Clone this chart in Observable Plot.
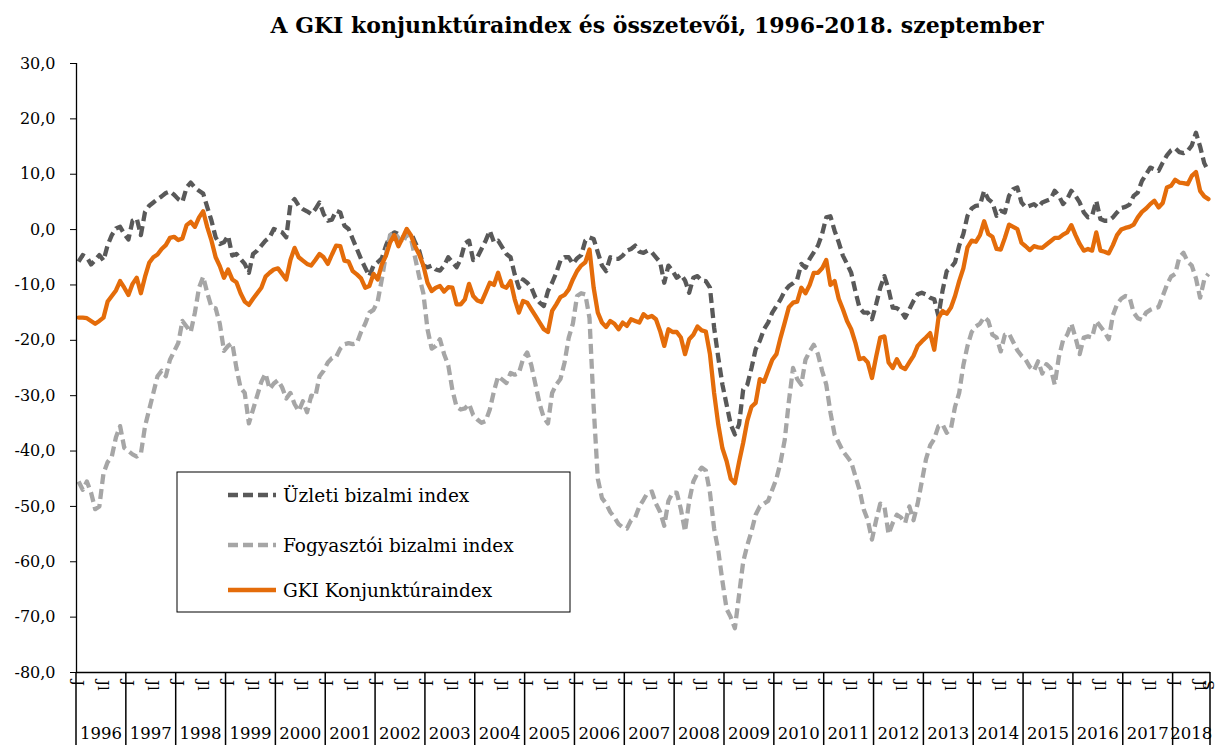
<!DOCTYPE html>
<html><head><meta charset="utf-8">
<script src="https://cdn.jsdelivr.net/npm/d3@7"></script>
<script src="https://cdn.jsdelivr.net/npm/@observablehq/plot@0.6"></script>
<style>
body{margin:0;background:#fff;width:1220px;height:745px;overflow:hidden;}
#title{height:45px;box-sizing:border-box;padding-left:94px;text-align:center;font-family:"DejaVu Serif";font-weight:bold;font-size:22px;line-height:50px;color:#000;white-space:nowrap;}
#chart svg{display:block;}
</style></head><body>
<div id="title">A GKI konjunktúraindex és összetevői, 1996-2018. szeptember</div>
<div id="chart"></div>
<script>
const years = [1996,1997,1998,1999,2000,2001,2002,2003,2004,2005,2006,2007,2008,2009,2010,2011,2012,2013,2014,2015,2016,2017,2018];
const monthTickLabels = ["J", "Jl"];
const monthTickIndex = [0, 6];
const lastMonthLabel = "S";
const yTicks = [30,20,10,0,-10,-20,-30,-40,-50,-60,-70,-80];
const seriesNames = ["Üzleti bizalmi index", "Fogyasztói bizalmi index", "GKI Konjunktúraindex"];

const uzleti = [
-5.8,-4.6,-5.0,-6.3,-5.5,-4.6,-5.6,-2.8,-1.0,0.2,0.5,-0.8,
-1.8,1.6,2.0,-1.0,3.2,4.3,4.9,5.5,6.0,6.6,6.9,6.3,
5.5,5.0,7.6,8.5,7.6,7.0,6.5,4.0,1.6,-1.4,-2.6,-2.3,
-1.1,-4.7,-4.4,-5.3,-6.2,-7.8,-4.4,-3.8,-2.9,-2.0,-1.4,0.1,
-0.2,-0.5,-1.4,4.6,5.5,4.3,3.7,3.3,2.8,3.7,4.9,2.8,
1.6,1.8,3.4,3.1,0.7,0.1,-1.7,-3.5,-5.3,-6.9,-8.4,-6.5,
-5.9,-5.2,-2.9,-1.1,-0.5,-0.8,-1.4,-0.8,-0.5,-2.3,-3.8,-6.5,
-6.8,-6.5,-7.2,-7.4,-6.5,-5.0,-5.9,-6.8,-5.3,-2.5,-2.0,-5.5,
-5.0,-3.5,-2.0,-0.2,-2.3,-2.0,-3.2,-4.4,-5.0,-8.1,-10.5,-9.0,
-9.6,-10.5,-12.3,-13.2,-13.8,-11.1,-9.6,-7.8,-5.6,-5.0,-5.0,-6.2,
-5.2,-4.6,-2.0,-1.4,-1.7,-4.1,-6.5,-7.5,-5.0,-5.3,-5.3,-4.7,
-3.8,-3.5,-2.9,-4.0,-4.2,-3.8,-4.1,-5.0,-5.9,-9.6,-6.5,-7.5,
-8.7,-8.1,-9.2,-11.4,-8.7,-8.4,-9.2,-9.3,-10.5,-17.7,-23.1,-28.0,
-31.6,-35.2,-37.0,-35.2,-28.9,-28.0,-25.0,-21.6,-20.1,-18.0,-16.8,-15.0,
-13.8,-12.6,-11.1,-10.2,-9.7,-9.0,-6.2,-6.9,-5.3,-4.1,-2.9,-0.8,
2.2,2.4,-0.2,-2.3,-4.7,-6.2,-7.8,-11.1,-14.1,-15.0,-15.0,-16.2,
-13.5,-10.5,-8.4,-10.8,-14.1,-14.2,-14.7,-15.9,-14.4,-12.9,-11.7,-11.4,
-11.7,-12.3,-12.6,-15.6,-11.0,-7.5,-6.9,-5.9,-2.9,-0.8,2.5,3.8,
4.3,4.4,7.0,5.5,4.9,2.5,3.4,3.1,6.1,7.3,7.6,4.9,
4.0,4.3,4.6,4.0,4.9,5.2,5.5,7.0,6.1,4.6,5.5,7.0,
6.1,4.9,3.1,2.2,2.5,5.2,1.9,1.6,1.6,2.2,3.1,3.9,
4.1,4.5,6.1,6.7,8.8,10.0,11.2,10.9,10.6,12.1,13.4,14.3,
14.7,14.0,13.8,14.2,15.2,17.5,15.0,12.0,10.5
];

const fogyasztoi = [
-45.5,-47.0,-45.5,-47.5,-50.5,-50.0,-44.0,-42.0,-41.0,-37.5,-35.5,-39.4,
-40.0,-40.6,-41.0,-40.5,-35.5,-32.5,-29.5,-26.5,-25.5,-26.5,-23.5,-22.0,
-20.5,-16.5,-17.5,-18.5,-15.0,-10.5,-8.5,-11.5,-14.0,-14.2,-17.0,-21.9,
-21.0,-20.5,-25.0,-28.6,-29.5,-35.0,-32.5,-30.0,-27.5,-26.0,-28.8,-27.8,
-27.2,-28.5,-30.5,-29.5,-31.5,-32.8,-31.0,-33.0,-30.0,-30.2,-26.5,-25.5,
-24.0,-23.2,-23.0,-21.5,-20.7,-20.5,-20.7,-20.5,-18.5,-17.0,-15.0,-14.5,
-13.0,-9.0,-4.5,-1.0,-0.5,-1.5,-2.5,-0.8,-1.5,-5.0,-8.5,-11.5,
-18.0,-21.5,-21.0,-19.8,-22.5,-24.5,-29.0,-32.0,-32.5,-32.3,-31.5,-33.5,
-34.3,-34.9,-34.6,-32.5,-29.2,-26.5,-27.1,-27.7,-25.9,-26.2,-25.9,-23.4,
-22.2,-24.5,-28.0,-31.5,-34.0,-35.0,-29.5,-28.0,-27.0,-24.0,-19.5,-17.0,
-12.0,-11.5,-11.7,-16.0,-32.0,-45.0,-48.5,-49.5,-51.0,-52.0,-53.2,-53.8,
-54.0,-52.5,-52.0,-50.0,-48.8,-47.5,-47.3,-49.5,-51.0,-53.5,-49.0,-47.5,
-47.5,-50.5,-54.5,-49.0,-45.5,-44.0,-43.0,-43.5,-47.5,-54.0,-58.0,-63.5,
-68.5,-70.0,-72.0,-66.0,-60.0,-57.0,-54.5,-51.5,-50.0,-49.5,-49.0,-47.0,
-45.0,-42.0,-38.0,-31.0,-25.0,-27.0,-28.0,-23.5,-22.0,-20.8,-22.5,-25.5,
-28.0,-33.0,-37.0,-38.5,-40.0,-41.0,-42.0,-44.5,-47.0,-50.5,-52.5,-56.0,
-52.5,-49.5,-50.0,-55.0,-53.0,-51.5,-52.0,-53.0,-50.0,-52.5,-49.5,-45.5,
-41.5,-39.0,-37.8,-35.5,-35.2,-36.7,-36.0,-32.0,-29.5,-24.5,-21.0,-18.5,
-17.5,-17.0,-15.8,-16.5,-19.0,-19.5,-22.0,-19.0,-18.8,-20.3,-21.8,-22.8,
-23.5,-24.8,-25.5,-23.8,-26.0,-24.3,-25.0,-28.0,-23.0,-20.0,-19.0,-17.0,
-19.5,-22.5,-19.5,-19.3,-19.5,-16.5,-17.5,-18.5,-19.8,-15.5,-13.5,-12.5,
-12.0,-12.2,-15.0,-16.0,-16.3,-15.0,-14.5,-14.2,-14.0,-12.0,-10.0,-8.5,
-8.0,-5.0,-4.2,-5.8,-6.5,-8.8,-12.3,-9.0,-8.0
];

const gki = [
-15.9,-15.9,-16.0,-16.5,-17.0,-16.5,-15.9,-13.0,-12.0,-11.0,-9.3,-10.5,
-11.8,-9.8,-8.7,-11.5,-8.5,-6.0,-5.0,-4.5,-3.5,-2.8,-1.5,-1.3,
-1.9,-1.6,0.8,1.4,0.5,2.2,3.3,0.4,-2.0,-5.0,-6.6,-8.7,
-7.2,-9.0,-9.5,-11.5,-13.0,-13.6,-12.5,-11.5,-10.5,-8.5,-7.8,-7.2,
-7.0,-8.0,-9.0,-5.5,-3.3,-5.0,-5.6,-6.2,-6.5,-5.5,-4.4,-5.0,
-6.2,-4.5,-2.9,-3.0,-5.6,-5.8,-7.5,-8.1,-8.8,-10.5,-10.2,-8.0,
-9.0,-6.3,-4.7,-2.3,-1.0,-3.0,-1.5,0.1,-1.0,-3.0,-4.5,-6.5,
-9.6,-11.1,-10.5,-10.2,-11.2,-10.4,-10.5,-13.5,-13.5,-12.6,-9.8,-12.0,
-12.8,-13.1,-11.4,-9.6,-10.0,-7.8,-10.2,-10.5,-9.3,-12.6,-15.0,-12.9,
-13.2,-14.4,-15.6,-16.8,-18.0,-18.5,-14.7,-13.5,-12.2,-11.8,-10.8,-9.0,
-7.5,-6.5,-5.9,-3.6,-10.5,-15.0,-16.8,-17.6,-16.5,-17.0,-18.0,-16.8,
-17.4,-16.2,-16.5,-16.8,-15.3,-15.9,-15.6,-16.2,-18.3,-21.0,-18.0,-18.5,
-18.5,-19.5,-22.5,-19.8,-19.0,-17.5,-18.2,-18.4,-22.5,-29.5,-35.2,-39.5,
-41.8,-45.0,-45.8,-42.0,-38.5,-34.5,-32.0,-31.3,-27.0,-27.5,-25.5,-23.5,
-22.5,-19.5,-16.8,-14.0,-13.2,-13.0,-10.5,-11.5,-10.0,-7.8,-7.8,-7.0,
-5.5,-10.0,-9.3,-12.5,-14.4,-16.5,-18.0,-20.4,-23.4,-23.2,-24.0,-26.8,
-23.0,-19.5,-19.3,-24.0,-25.0,-23.4,-24.8,-25.2,-24.0,-22.8,-21.0,-20.2,
-19.5,-18.7,-21.7,-16.0,-14.7,-15.2,-14.1,-12.0,-9.3,-7.0,-3.2,-2.0,
-2.2,-1.0,1.5,-0.8,-1.3,-3.5,-3.6,-1.5,0.9,0.5,0.1,-2.4,
-3.0,-3.7,-3.0,-3.2,-3.3,-2.7,-2.1,-1.5,-1.5,-0.9,-0.5,0.8,
-1.0,-2.6,-3.8,-3.5,-3.8,-0.5,-3.8,-4.0,-4.3,-2.8,-1.0,0.0,
0.3,0.5,0.9,2.2,3.2,3.8,4.6,5.2,4.0,4.8,7.6,7.9,
9.0,8.5,8.4,8.2,9.7,10.4,7.0,6.0,5.5
];

const N = gki.length;
const colors = ["#595959", "#a6a6a6", "#e46c0a"];
const dashes = ["10,5", "10,5", null];
const W = 1220, H = 700;
const fontFam = "DejaVu Serif";
const fmt = d => d.toFixed(1).replace(".", ",");

const series = [uzleti, fogyasztoi, gki];

const plot = Plot.plot({
  width: W, height: H,
  marginTop: 18, marginBottom: 73, marginLeft: 76, marginRight: 10,
  style: {fontFamily: fontFam, fontSize: "16px", color: "#000", background: "#fff", overflow: "visible"},
  x: {domain: [0, N], axis: null},
  y: {domain: [-80, 30], ticks: yTicks, tickFormat: fmt, tickSize: 6, tickPadding: 15, label: null},
  marks: [
    ...series.map((s, k) => Plot.lineY(s, {
      x: (d, i) => i + 0.5, y: d => d,
      stroke: colors[k], strokeWidth: 4.3,
      strokeDasharray: dashes[k] || undefined,
      strokeLinejoin: "round", strokeLinecap: k === 2 ? "round" : "butt"
    })),
    Plot.ruleX([0], {stroke: "#000", strokeWidth: 1.3}),
    Plot.ruleY([-80], {stroke: "#000", strokeWidth: 1.5})
  ]
});
document.getElementById("chart").appendChild(plot);

// x-axis decorations drawn with the plot's own scales
const sx = plot.scale("x"), sy = plot.scale("y");
const svg = d3.select(plot);
const yAxis = sy.apply(-80);
const boundaries = years.map((y, i) => i * 12).concat([N]);
const gAx = svg.append("g");
gAx.selectAll("line").data(boundaries).join("line")
  .attr("x1", d => sx.apply(d)).attr("x2", d => sx.apply(d))
  .attr("y1", yAxis).attr("y2", H)
  .attr("stroke", "#000").attr("stroke-width", 1.5);

const monthLabels = [];
years.forEach((yr, i) => {
  monthTickIndex.forEach((m, j) => {
    const idx = i * 12 + m;
    if (idx < N) monthLabels.push({idx, text: monthTickLabels[j]});
  });
});
monthLabels.push({idx: N - 1, text: lastMonthLabel});
gAx.append("g").selectAll("text").data(monthLabels).join("text")
  .attr("transform", d => `translate(${sx.apply(d.idx + 0.5)},${yAxis + 8}) rotate(90)`)
  .attr("text-anchor", "start")
  .attr("dominant-baseline", "central")
  .attr("font-family", fontFam).attr("font-size", 15)
  .text(d => d.text);

gAx.append("g").selectAll("text").data(years).join("text")
  .attr("x", (d, i) => (sx.apply(i * 12) + sx.apply(Math.min((i + 1) * 12, N))) / 2)
  .attr("y", yAxis + 61)
  .attr("text-anchor", "middle").attr("dominant-baseline", "central")
  .attr("font-family", fontFam).attr("font-size", 16.5)
  .text(d => d);

// legend inside plot area
const lg = svg.append("g");
const lgX = 177, lgY = 427, lgW = 393, lgH = 140;
lg.append("rect").attr("x", lgX).attr("y", lgY).attr("width", lgW).attr("height", lgH)
  .attr("fill", "#fff").attr("stroke", "#000").attr("stroke-width", 1);
const rowY = [23, 73, 118];
seriesNames.forEach((name, k) => {
  const yy = lgY + rowY[k];
  lg.append("line").attr("x1", lgX + 51).attr("x2", lgX + 99).attr("y1", yy).attr("y2", yy)
    .attr("stroke", colors[k]).attr("stroke-width", 4.3)
    .attr("stroke-dasharray", dashes[k]);
  lg.append("text").attr("x", lgX + 106).attr("y", yy)
    .attr("text-anchor", "start")
    .attr("dominant-baseline", "central")
    .attr("font-family", fontFam).attr("font-size", 18.5)
    .text(name);
});
</script>
</body></html>
